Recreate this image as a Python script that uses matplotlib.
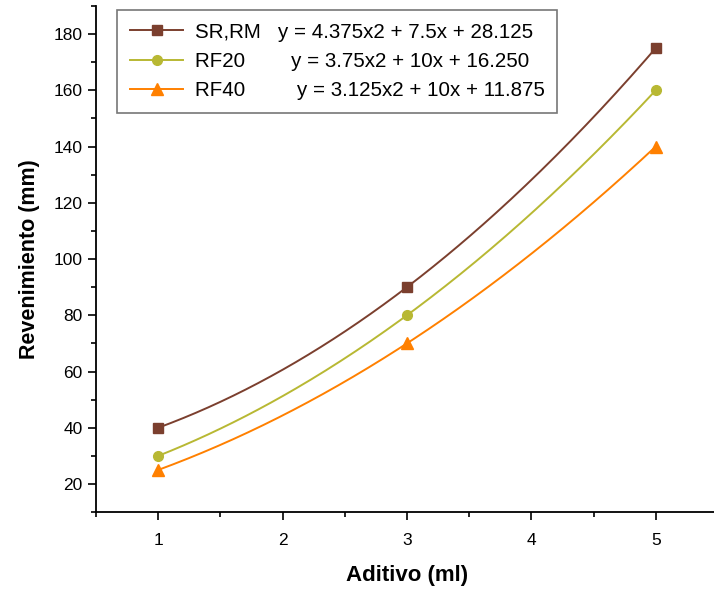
import numpy as np
import matplotlib
matplotlib.use("Agg")
import matplotlib.pyplot as plt
from matplotlib.ticker import MultipleLocator

plt.rcParams['font.family'] = ['Liberation Sans', 'DejaVu Sans']

x = [1, 3, 5]
sr_rm = [40, 90, 175]
rf20 = [30, 80, 160]
rf40 = [25, 70, 140]
names = ["SR,RM", "RF20", "RF40"]
equations = ["y = 4.375x2 + 7.5x + 28.125", "y = 3.75x2 + 10x + 16.250", "y = 3.125x2 + 10x + 11.875"]
gaps = ["   ", "        ", "         "]

colors = ["#7B3F2E", "#B8B833", "#FF8000"]
markers = ["s", "o", "^"]
msizes = [7, 7, 8.5]

fig = plt.figure(figsize=(7.14, 5.9), dpi=100)
ax = fig.add_axes([0.1345, 0.132, 0.871, 0.858])

xs = np.linspace(min(x), max(x), 200)
for ys, nm, eq, gp, c, m, ms in zip([sr_rm, rf20, rf40], names, equations, gaps, colors, markers, msizes):
    coef = np.polyfit(x, ys, 2)
    ax.plot(xs, np.polyval(coef, xs), color=c, lw=1.4)
    ax.plot(x, ys, linestyle='none', marker=m, color=c, markersize=ms)
    ax.plot([], [], color=c, lw=1.4, marker=m, markersize=ms, label=nm + gp + eq)

ax.set_xlim(0.5, 5.5)
ax.set_ylim(10, 190)
ax.xaxis.set_minor_locator(MultipleLocator(0.5))
ax.yaxis.set_minor_locator(MultipleLocator(10))
ax.set_xticks([1, 2, 3, 4, 5])
ax.set_yticks([20, 40, 60, 80, 100, 120, 140, 160, 180])
for s in ['top', 'right']:
    ax.spines[s].set_visible(False)
for s in ['left', 'bottom']:
    ax.spines[s].set_linewidth(1.3)
ax.tick_params(which='major', direction='out', length=6, width=1.2, labelsize=12.5)
ax.tick_params(which='minor', direction='out', length=3.5, width=1.2)
ax.tick_params(axis='x', pad=9)

ax.set_xlabel("Aditivo (ml)", fontsize=16, fontweight='bold', labelpad=12)
ax.set_ylabel("Revenimiento (mm)", fontsize=15.5, fontweight='bold', labelpad=10)

leg = ax.legend(loc='upper left', bbox_to_anchor=(0.034, 0.992), borderaxespad=0,
                fontsize=14.8, frameon=True, fancybox=False, edgecolor='#555555',
                handlelength=2.6, borderpad=0.62, labelspacing=0.5, handletextpad=0.55)
leg.get_frame().set_linewidth(1.2)

fig.savefig("out.png", dpi=100)
